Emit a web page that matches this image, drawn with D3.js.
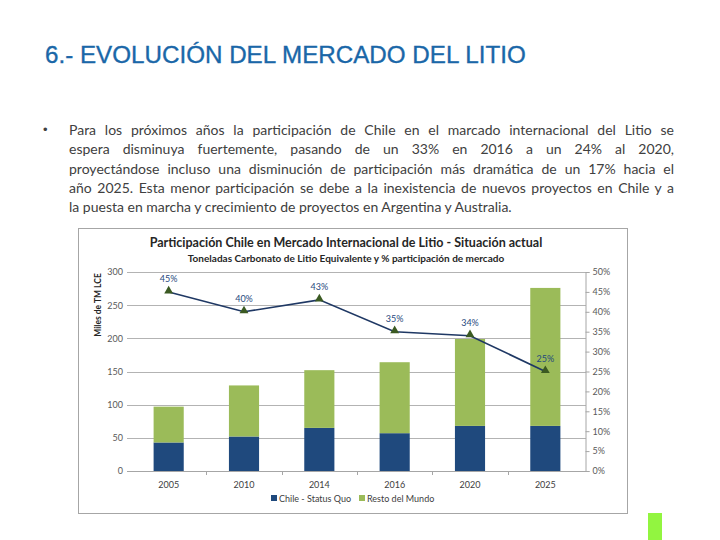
<!DOCTYPE html>
<html><head><meta charset="utf-8">
<script src="https://cdn.jsdelivr.net/npm/d3@7"></script>
<style>
html,body{margin:0;padding:0;background:#fff;}
#wrap{position:relative;width:720px;height:540px;overflow:hidden;}
svg{position:absolute;left:0;top:0;}
#para{position:absolute;left:69px;top:120px;width:605px;font-family:Lato,"Open Sans",sans-serif;font-size:14px;color:#404040;line-height:19.3px;}
#para div{text-align:justify;text-align-last:justify;white-space:nowrap;}
#para div.last{text-align-last:left;}
#bullet{position:absolute;left:43px;top:120px;font-family:Arial,sans-serif;font-size:13px;color:#404040;line-height:19.3px;}
</style></head>
<body><div id="wrap"><div id="bullet">•</div><div id="para"></div></div>
<script>
const years = ["2005","2010","2014","2016","2020","2025"];
const chile = [43, 52, 65, 57, 68, 68];
const resto = [54, 77, 87, 107, 131, 208];
const share = [45, 40, 43, 35, 34, 25];
const leftTicks = [0,50,100,150,200,250,300];
const rightTicks = [0,5,10,15,20,25,30,35,40,45,50];
const paraLines = [
 "Para los próximos años la participación de Chile en el marcado internacional del Litio se",
 "espera disminuya fuertemente, pasando de un 33% en 2016 a un 24% al 2020,",
 "proyectándose incluso una disminución de participación más dramática de un 17% hacia el",
 "año 2025. Esta menor participación se debe a la inexistencia de nuevos proyectos en Chile y a",
 "la puesta en marcha y crecimiento de proyectos en Argentina y Australia."
];
const heading = "6.- EVOLUCIÓN DEL MERCADO DEL LITIO";
const chartTitle = "Participación Chile en Mercado Internacional de Litio - Situación actual";
const chartSub = "Toneladas Carbonato de Litio Equivalente y % participación de mercado";
const yTitle = "Miles de TM LCE";
const legendNames = ["Chile - Status Quo","Resto del Mundo"];
const colChile = "#1f497d", colResto = "#9bbb59";

d3.select("#para").selectAll("div").data(paraLines).join("div")
  .attr("class",(d,i)=> i===paraLines.length-1 ? "last" : null).text(d=>d);

const svg = d3.select("#wrap").insert("svg","#bullet").attr("width",720).attr("height",540);

svg.append("text").attr("x",45).attr("y",63).attr("font-family","Liberation Sans, Arial, sans-serif")
  .attr("font-size",24.2).attr("fill","#1a67a8").attr("stroke","#1a67a8").attr("stroke-width",0.35).text(heading);

// chart frame
svg.append("rect").attr("x",78.5).attr("y",228.5).attr("width",549).attr("height",285)
  .attr("fill","#fff").attr("stroke","#a6a6a6").attr("stroke-width",1);

const ff = "Lato, 'Open Sans', sans-serif";
svg.append("text").attr("x",346).attr("y",247).attr("text-anchor","middle").attr("font-family",ff)
  .attr("font-weight","bold").attr("font-size",12.5).attr("fill","#262626").text(chartTitle);
svg.append("text").attr("x",346).attr("y",262).attr("text-anchor","middle").attr("font-family",ff)
  .attr("font-weight","bold").attr("font-size",10).attr("fill","#262626").text(chartSub);

const x0 = 131, x1 = 583, yb = 471, yt = 272;
const x = d3.scaleBand().domain(years).range([x0,x1]).paddingInner(0.6).paddingOuter(0.3);
const xb = d3.scaleBand().domain(years).range([x0,x1]);
const y = d3.scaleLinear().domain([0,300]).range([yb,yt]);
const y2 = d3.scaleLinear().domain([0,50]).range([yb,yt]);

// gridlines
svg.append("g").selectAll("line").data(leftTicks).join("line")
  .attr("x1",127).attr("x2",586).attr("y1",d=>Math.round(y(d))+0.5).attr("y2",d=>Math.round(y(d))+0.5)
  .attr("stroke","#b3b3b3").attr("stroke-width",1);

// left axis labels
const la = svg.append("g").attr("transform",`translate(127,0)`)
  .call(d3.axisLeft(y).tickValues(leftTicks).tickSize(0).tickPadding(4));
la.select(".domain").remove();
la.selectAll("text").attr("font-family",ff).attr("font-size",9).attr("fill","#595959");

// right axis
const ra = svg.append("g").attr("transform",`translate(585.5,0)`)
  .call(d3.axisRight(y2).tickValues(rightTicks).tickSize(4).tickPadding(3).tickFormat(d=>d+"%"));
ra.select(".domain").attr("stroke","#a6a6a6");
ra.selectAll(".tick line").attr("stroke","#a6a6a6");
ra.selectAll("text").attr("font-family",ff).attr("font-size",9).attr("fill","#595959");

// y title
svg.append("text").attr("transform","translate(101,305) rotate(-90)").attr("text-anchor","middle")
  .attr("font-family",ff).attr("font-weight","bold").attr("font-size",8.5).attr("fill","#262626").text(yTitle);

// bars
const stackData = years.map((yr,i)=>({year:yr, chile:chile[i], resto:resto[i]}));
const stack = d3.stack().keys(["chile","resto"])(stackData);
const cols = {chile:colChile, resto:colResto};
svg.append("g").selectAll("g").data(stack).join("g").attr("fill",d=>cols[d.key])
  .selectAll("rect").data(d=>d).join("rect")
  .attr("x",d=>x(d.data.year)).attr("width",x.bandwidth())
  .attr("y",d=>y(d[1])).attr("height",d=>y(d[0])-y(d[1]));

// bottom axis
const ba = svg.append("g").attr("transform",`translate(0,${yb}.5)`)
  .call(d3.axisBottom(xb).tickSize(0).tickPadding(10));
ba.select(".domain").attr("stroke","#a6a6a6").attr("d",`M127,0H586`);
ba.selectAll("text").attr("font-family",ff).attr("font-size",9).attr("fill","#404040");
svg.append("g").selectAll("line").data(years.slice(1)).join("line")
  .attr("x1",d=>Math.round(xb(d))+0.5).attr("x2",d=>Math.round(xb(d))+0.5)
  .attr("y1",yb).attr("y2",yb+4).attr("stroke","#a6a6a6");

// line
const cx = d=>xb(d)+xb.bandwidth()/2;
svg.append("path").datum(share.map((s,i)=>[cx(years[i]),y2(s)]))
  .attr("d",d3.line()).attr("fill","none").attr("stroke","#1f3864").attr("stroke-width",1.6);
svg.append("g").selectAll("path").data(share).join("path")
  .attr("transform",(d,i)=>`translate(${cx(years[i])},${y2(d)-1})`)
  .attr("d",d3.symbol(d3.symbolTriangle,34)).attr("fill","#3b5a22");
svg.append("g").selectAll("text").data(share).join("text")
  .attr("x",(d,i)=>cx(years[i])).attr("y",d=>y2(d)-10).attr("text-anchor","middle")
  .attr("font-family",ff).attr("font-size",9).attr("fill","#1f497d").text(d=>d+"%");

// legend
const lg = svg.append("g");
const lx = [271, 359];
legendNames.forEach((n,i)=>{
  lg.append("rect").attr("x",lx[i]).attr("y",495).attr("width",6).attr("height",6).attr("fill",[colChile,colResto][i]);
  lg.append("text").attr("x",lx[i]+8).attr("y",501.5).attr("font-family",ff).attr("font-size",9).attr("fill","#404040").text(n);
});

// green accent
svg.append("rect").attr("x",648).attr("y",513).attr("width",14).attr("height",27).attr("fill","#92f540");
</script></body></html>
